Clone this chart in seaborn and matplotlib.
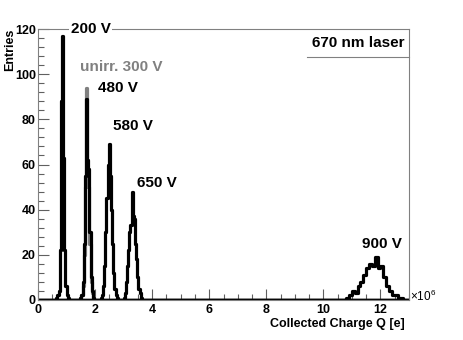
import numpy as np
import pandas as pd
import matplotlib
matplotlib.use('Agg')
import matplotlib.pyplot as plt
import seaborn as sns
from matplotlib.ticker import MultipleLocator

# histogram contents (entries per bin)
fine_width = 0.04      # x10^6 e
coarse_width = 0.1

v200_start = 0.64
v200_counts = [1, 2, 4, 22, 88, 117, 63, 22, 6, 2, 1]

unirr300_start = 1.48
unirr300_counts = [1, 2, 6, 20, 50, 94, 55, 50, 25, 8, 3, 1]

v480_start = 1.48
v480_counts = [1, 2, 8, 25, 55, 89, 62, 58, 30, 10, 4, 1]

v580_start = 2.20
v580_counts = [1, 2, 6, 15, 30, 45, 60, 69, 55, 40, 25, 12, 5, 2, 1]

v650_start = 3.00
v650_counts = [1, 3, 8, 15, 22, 30, 33, 48, 37, 36, 25, 18, 10, 5, 3, 1]

v900_start = 10.8
v900_counts = [1, 2, 4, 3, 6, 8, 11, 14, 16, 15, 19, 14, 15, 10, 6, 4, 2, 2, 1, 1]

x_max = 13.0


def full_hist(start, counts, width):
    nbins = int(round(x_max / width))
    full = np.zeros(nbins)
    i0 = int(round(start / width))
    full[i0:i0 + len(counts)] = counts
    centers = (np.arange(nbins) + 0.5) * width
    return pd.DataFrame({'q': centers, 'n': full})


plt.rcParams['font.family'] = ['Liberation Sans', 'DejaVu Sans']
plt.rcParams['font.weight'] = 'bold'
plt.rcParams['mathtext.default'] = 'regular'

fig = plt.figure(figsize=(4.63, 3.40), dpi=100)
ax = fig.add_axes([38 / 463, 40 / 340, 371 / 463, 271 / 340])

series = [
    (unirr300_start, unirr300_counts, fine_width, 'grey'),
    (v200_start, v200_counts, fine_width, 'black'),
    (v480_start, v480_counts, fine_width, 'black'),
    (v580_start, v580_counts, fine_width, 'black'),
    (v650_start, v650_counts, fine_width, 'black'),
    (v900_start, v900_counts, coarse_width, 'black'),
]
for start, counts, width, color in series:
    df = full_hist(start, counts, width)
    sns.histplot(data=df, x='q', weights='n', binwidth=width, binrange=(0, x_max),
                 element='step', fill=False, color=color, linewidth=2.3, ax=ax)

ax.set_xlim(0, x_max)
ax.set_ylim(0, 120)
ax.set_xlabel('')
ax.set_ylabel('')

for s in ax.spines.values():
    s.set_color('#808080')
    s.set_linewidth(0.8)

ax.xaxis.set_major_locator(MultipleLocator(2))
ax.xaxis.set_minor_locator(MultipleLocator(0.5))
ax.yaxis.set_major_locator(MultipleLocator(20))
ax.yaxis.set_minor_locator(MultipleLocator(4))
ax.tick_params(which='both', direction='in', color='#606060', width=0.8,
               labelsize=9, top=False, right=False)
ax.tick_params(which='major', length=8)
ax.tick_params(which='minor', length=4)
ax.tick_params(axis='x', pad=3)
ax.tick_params(axis='y', pad=1.5)
for lab in ax.get_xticklabels() + ax.get_yticklabels():
    lab.set_fontweight('bold')

# peak labels
white = dict(facecolor='white', edgecolor='none', pad=1)
ax.text(1.15, 120, '200 V', fontsize=11, fontweight='bold', ha='left',
        va='center', bbox=white, clip_on=False, zorder=5)
ax.text(1.47, 103, 'unirr. 300 V', fontsize=11, fontweight='bold', color='grey',
        ha='left', va='center')
ax.text(2.10, 94, '480 V', fontsize=11, fontweight='bold', ha='left', va='center')
ax.text(2.63, 77, '580 V', fontsize=11, fontweight='bold', ha='left', va='center')
ax.text(3.47, 52, '650 V', fontsize=11, fontweight='bold', ha='left', va='center')
ax.text(11.37, 25, '900 V', fontsize=11, fontweight='bold', ha='left', va='center')

ax.text(0.862, 0.948, '670 nm laser', transform=ax.transAxes, fontsize=11,
        fontweight='bold', ha='center', va='center')
ax.plot([0.725, 1.0], [0.897, 0.897], transform=ax.transAxes, color='#808080',
        linewidth=0.8, clip_on=False)

fig.text(405 / 463, 16 / 340, 'Collected Charge Q [e]', fontsize=9,
         fontweight='bold', ha='right', va='center')
fig.text(10 / 463, 311 / 340, 'Entries', fontsize=9, fontweight='bold',
         rotation=90, ha='center', va='top')
fig.text(410 / 463, 44 / 340, r'$\times10^{6}$', fontsize=8.5, ha='left',
         va='center', fontweight='normal')

fig.savefig('out.png', dpi=100)
